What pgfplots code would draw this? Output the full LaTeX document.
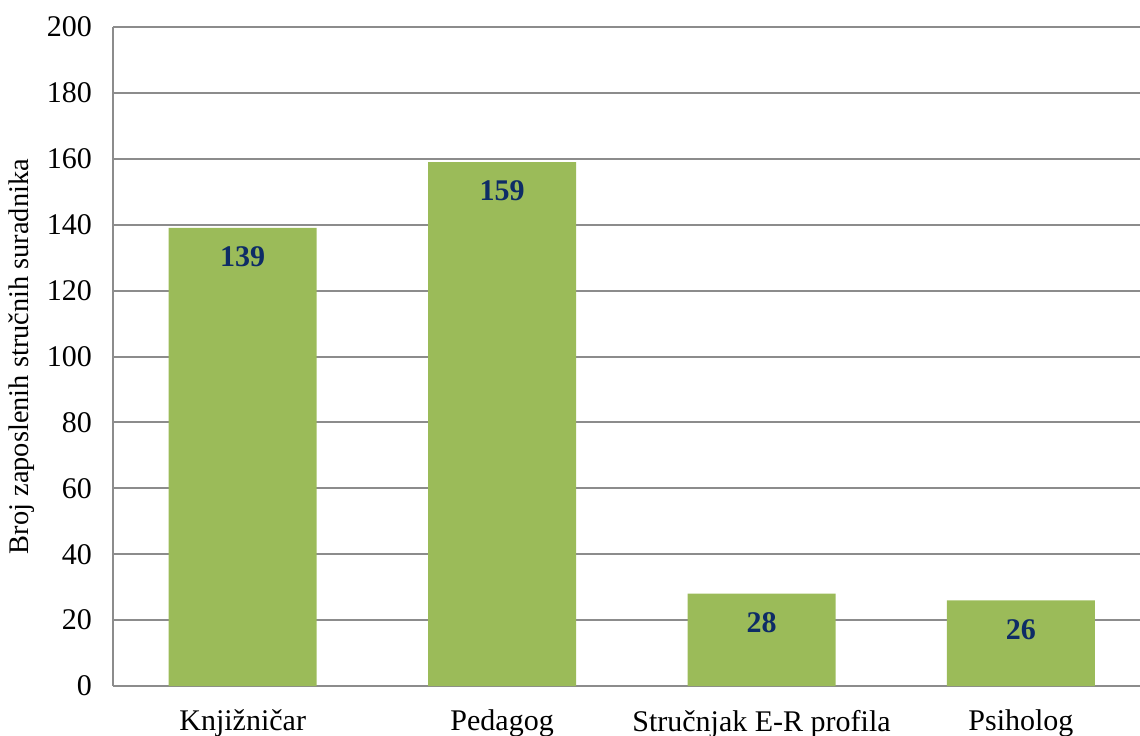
\documentclass[border=0pt]{standalone}
\usepackage{pgfplots}
\pgfplotsset{compat=1.18}
\usepackage{fontspec}
\setmainfont{Liberation Serif}
\definecolor{barGreen}{HTML}{9BBB59}
\definecolor{lblNavy}{HTML}{0E2C66}
\definecolor{gridGray}{HTML}{8C8C8C}

\begin{document}
\begin{tikzpicture}
    \useasboundingbox (0,0) rectangle (570pt,367.5pt);
    \begin{axis}[
        at={(56.5pt,24.5pt)},
        anchor=south west,
        scale only axis,
        width=513.5pt,
        height=329.5pt,
        ybar,
        bar width=74pt,
        xmin=-0.5, xmax=3.459,
        ymin=0, ymax=200,
        ytick={0,20,...,200},
        xtick={0,1,2,3},
        xticklabels={Knjižničar, Pedagog, Stručnjak E-R profila, Psiholog},
        axis x line*=bottom,
        axis y line*=left,
        axis line style={draw=gridGray, line width=1pt},
        ymajorgrids,
        major grid style={draw=gridGray, line width=1pt},
        major tick length=0pt,
        tick style={draw=none},
        font=\fontsize{15}{18}\selectfont,
        ticklabel style={font=\fontsize{15}{18}\selectfont},
        yticklabel style={xshift=-7pt},
        xticklabel style={yshift=-8.5pt},
        /pgf/number format/assume math mode=true,
        ylabel={Broj zaposlenih stručnih suradnika},
        ylabel style={at={(axis description cs:-0.0886,0.5)}, anchor=center, font=\fontsize{14.2}{17}\selectfont},
        nodes near coords,
        nodes near coords style={anchor=center, yshift=-14.5pt, text=lblNavy, font=\fontsize{15}{18}\selectfont\bfseries},
        /pgf/number format/.cd, 1000 sep={}
    ]
    \addplot [draw=none, fill=barGreen] coordinates {
        (0,139)
        (1,159)
        (2,28)
        (3,26)
    };
    \end{axis}
\end{tikzpicture}
\end{document}
